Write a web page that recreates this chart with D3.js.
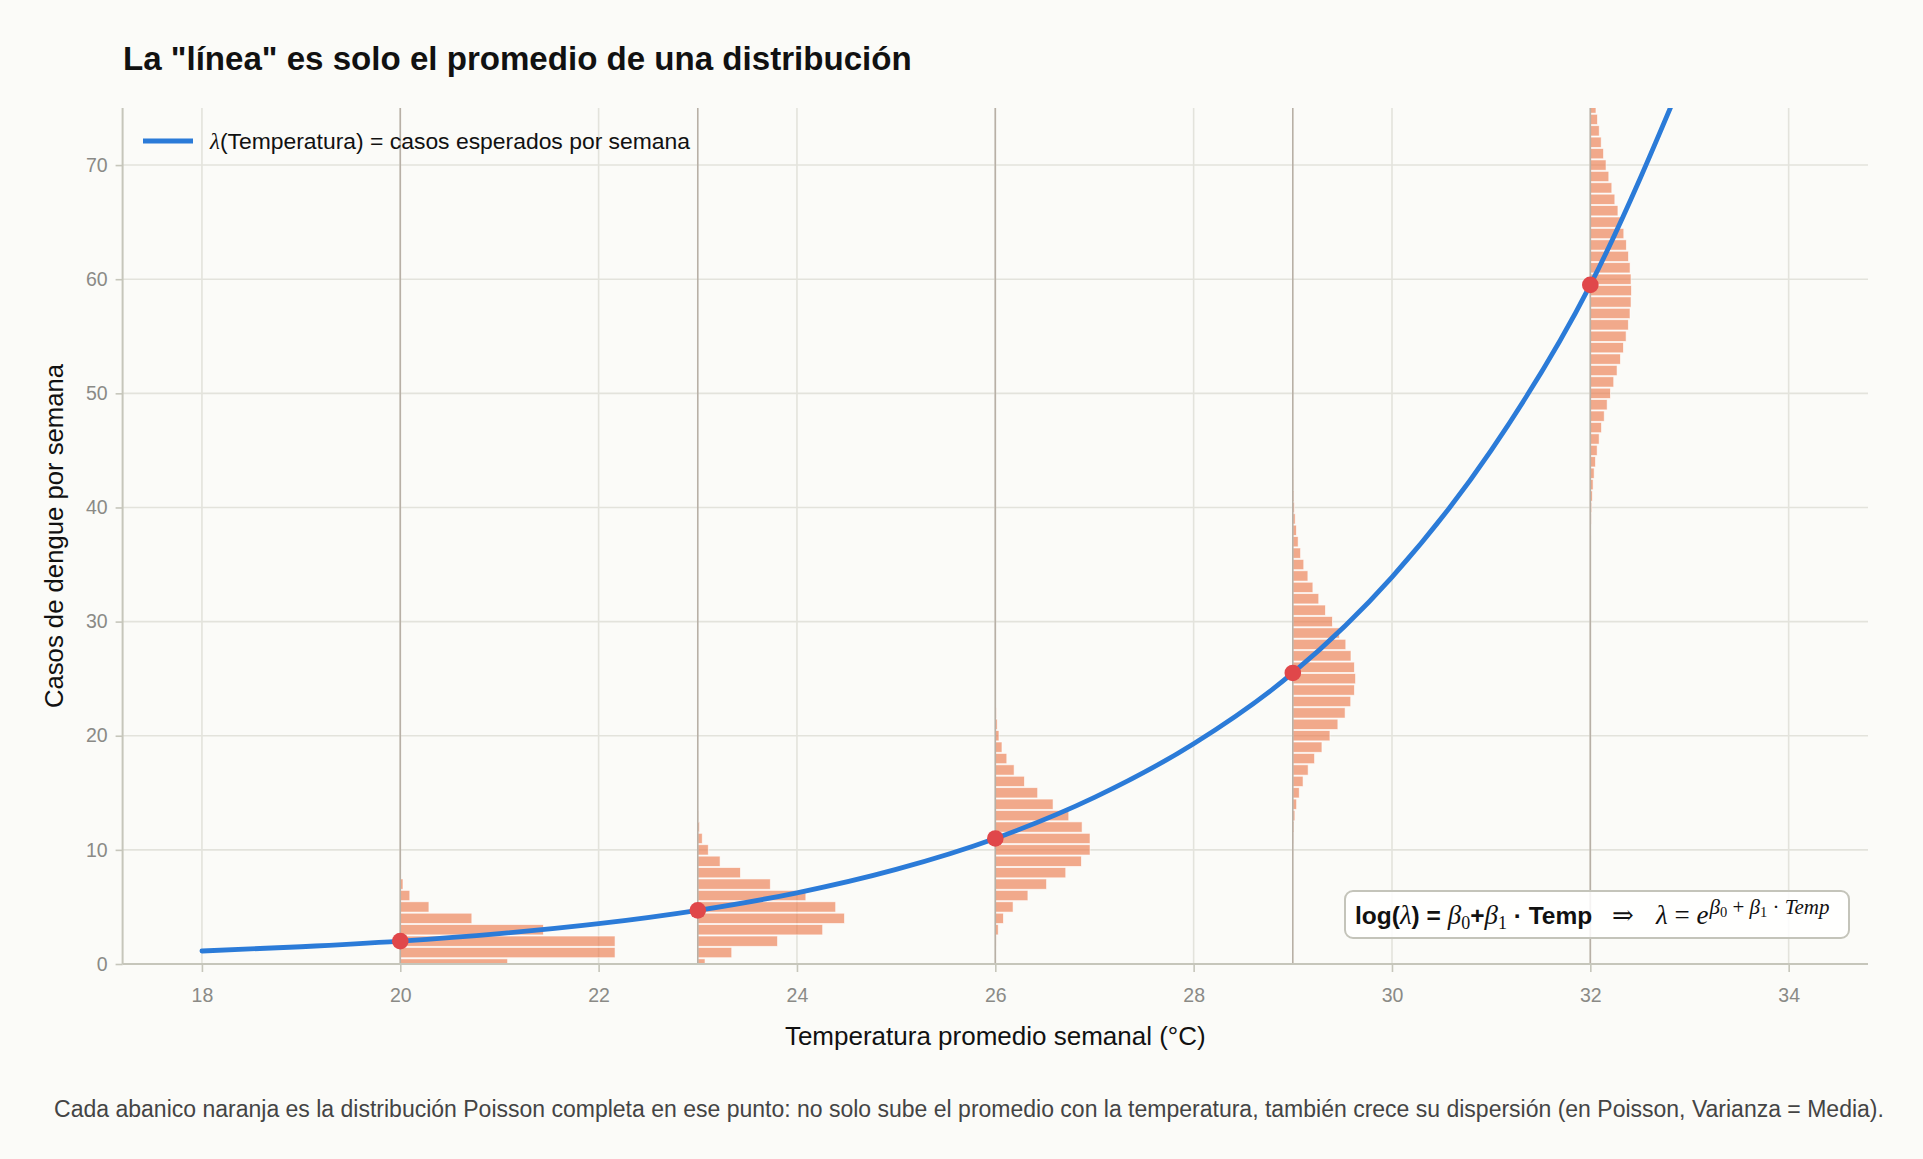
<!DOCTYPE html>
<html><head><meta charset="utf-8">
<script src="https://cdn.jsdelivr.net/npm/d3@7"></script>
<style>
html,body{margin:0;padding:0;background:#fbfbf8;}
svg{display:block;font-family:"Liberation Sans",Arial,sans-serif;}
</style></head>
<body>
<svg id="chart" width="1923" height="1159"></svg>
<script>
// ---- data ----
const curveTemps  = [18,19,20,21,22,23,24,25,26,27,28,29,30,31,32,33];
const curveLambda = [1.14,1.51,2.0,2.66,3.53,4.7,6.24,8.29,11.0,14.6,19.3,25.5,33.9,45.0,59.5,79.0];

const distTemps   = [20,23,26,29,32];
const distLambda  = [2.0,4.7,11.0,25.5,59.5];
const distKStart  = [0,0,0,9,35];
const pmf20 = [0.1353,0.2707,0.2707,0.1804,0.0902,0.0361,0.0120,0.0034,0.0009,0.0002];
const pmf23 = [0.0091,0.0428,0.1005,0.1574,0.1849,0.1738,0.1362,0.0914,0.0537,0.0281,0.0132,0.0056,0.0022,0.0008,0.0003];
const pmf26 = [0.00002,0.0002,0.0010,0.0037,0.0102,0.0224,0.0411,0.0646,0.0888,0.1085,0.1194,0.1194,0.1094,0.0926,0.0728,0.0534,0.0367,0.0237,0.0145,0.0084,0.0046,0.0024,0.0012,0.0006,0.0003,0.0001];
const pmf29 = [0.0001,0.0003,0.0006,0.0013,0.0026,0.0048,0.0081,0.0129,0.0193,0.0274,0.0367,0.0468,0.0568,0.0659,0.0730,0.0776,0.0791,0.0776,0.0733,0.0668,0.0587,0.0499,0.0411,0.0327,0.0253,0.0190,0.0138,0.0098,0.0067,0.0045,0.0030,0.0019,0.0012,0.0007,0.0004,0.0002,0.0001];
const pmf32 = [0.0002,0.0003,0.0005,0.0008,0.0011,0.0017,0.0025,0.0035,0.0048,0.0065,0.0086,0.0111,0.0141,0.0175,0.0212,0.0253,0.0295,0.0337,0.0379,0.0417,0.0451,0.0479,0.0500,0.0513,0.0518,0.0513,0.0501,0.0481,0.0454,0.0422,0.0386,0.0348,0.0309,0.0271,0.0233,0.0198,0.0166,0.0137,0.0112,0.0090,0.0071,0.0056];
const distPmf = [pmf20,pmf23,pmf26,pmf29,pmf32];
const pmfScale = 8; // degrees of x per unit probability

const xTicks = [18,20,22,24,26,28,30,32,34];
const yTicks = [0,10,20,30,40,50,60,70];

const titleText  = 'La "línea" es solo el promedio de una distribución';
const xLabelText = 'Temperatura promedio semanal (°C)';
const yLabelText = 'Casos de dengue por semana';
const legendText = '(Temperatura) = casos esperados por semana';
const noteText   = 'Cada abanico naranja es la distribución Poisson completa en ese punto: no solo sube el promedio con la temperatura, también crece su dispersión (en Poisson, Varianza = Media).';

// ---- layout ----
const P = {left:122.6, right:1868, top:108, bottom:964};
const svg = d3.select('#chart');
svg.append('rect').attr('width',1923).attr('height',1159).attr('fill','#fbfbf8');

const x = d3.scaleLinear().domain([17.2,34.8]).range([P.left,P.right]);
const y = d3.scaleLinear().domain([0,75]).range([P.bottom,P.top]);

svg.append('defs').append('clipPath').attr('id','clip')
  .append('rect').attr('x',P.left).attr('y',P.top).attr('width',P.right-P.left).attr('height',P.bottom-P.top);

// grid
const grid = svg.append('g');
grid.selectAll('.gx').data(xTicks).join('line')
  .attr('x1',d=>x(d)).attr('x2',d=>x(d)).attr('y1',P.top).attr('y2',P.bottom)
  .attr('stroke','#e3e3dc').attr('stroke-width',1.6);
grid.selectAll('.gy').data(yTicks).join('line')
  .attr('x1',P.left).attr('x2',P.right).attr('y1',d=>y(d)).attr('y2',d=>y(d))
  .attr('stroke','#e3e3dc').attr('stroke-width',1.6);

const plotG = svg.append('g').attr('clip-path','url(#clip)');

// histograms
distTemps.forEach((T,i)=>{
  const rows = distPmf[i].map((p,j)=>({k:distKStart[i]+j,p}));
  plotG.append('g').selectAll('rect').data(rows).join('rect')
    .attr('x',x(T))
    .attr('width',d=>x(T+d.p*pmfScale)-x(T))
    .attr('y',d=>y(d.k+0.45))
    .attr('height',d=>y(d.k-0.45)-y(d.k+0.45))
    .attr('fill','#ea6f3c').attr('fill-opacity',0.58)
    .attr('stroke','#ffffff').attr('stroke-width',0.8).attr('stroke-opacity',0.7);
});

// vertical reference lines at the distribution temperatures
plotG.selectAll('.vl').data(distTemps).join('line')
  .attr('x1',d=>x(d)).attr('x2',d=>x(d)).attr('y1',P.top).attr('y2',P.bottom)
  .attr('stroke','#b8b0a6').attr('stroke-width',1.6);

// curve
const line = d3.line().x((d,i)=>x(curveTemps[i])).y(d=>y(d)).curve(d3.curveMonotoneX);
plotG.append('path').datum(curveLambda).attr('d',line)
  .attr('fill','none').attr('stroke','#2b7bd8').attr('stroke-width',4.8).attr('stroke-linecap','round');

// points
plotG.selectAll('.pt').data(distTemps).join('circle')
  .attr('cx',d=>x(d)).attr('cy',(d,i)=>y(distLambda[i])).attr('r',8.3)
  .attr('fill','#e0474a');

// axes
const axX = svg.append('g').attr('transform',`translate(0,${P.bottom})`)
  .call(d3.axisBottom(x).tickValues(xTicks).tickSize(8).tickPadding(10).tickFormat(d3.format('d')));
const axY = svg.append('g').attr('transform',`translate(${P.left},0)`)
  .call(d3.axisLeft(y).tickValues(yTicks).tickSize(7).tickPadding(8).tickFormat(d3.format('d')));
[axX,axY].forEach(a=>{
  a.select('.domain').attr('stroke','#c6c6bb').attr('stroke-width',2);
  a.selectAll('.tick line').attr('stroke','#c6c6bb').attr('stroke-width',1.6);
  a.selectAll('.tick text').attr('fill','#8a8a86').attr('font-size',19.5)
   .attr('font-family','"Liberation Sans",Arial,sans-serif');
});
axX.select('.domain').attr('d',`M${P.left},0H${P.right}`);
axY.select('.domain').attr('d',`M0,${P.top}V${P.bottom}`);
axX.selectAll('.tick text').attr('dy','1.05em');

// title and labels
svg.append('text').attr('x',123).attr('y',70).text(titleText)
  .attr('font-size',33.1).attr('font-weight','bold').attr('fill','#111');
svg.append('text').attr('x',(P.left+P.right)/2).attr('y',1045).attr('text-anchor','middle')
  .text(xLabelText).attr('font-size',26).attr('fill','#111');
svg.append('text').attr('transform',`translate(63,${(P.top+P.bottom)/2}) rotate(-90)`)
  .attr('text-anchor','middle').text(yLabelText).attr('font-size',25.7).attr('fill','#111');
svg.append('text').attr('x',969).attr('y',1117).attr('text-anchor','middle')
  .text(noteText).attr('font-size',23).attr('fill','#444');

// legend
svg.append('line').attr('x1',143).attr('x2',193).attr('y1',141).attr('y2',141)
  .attr('stroke','#2b7bd8').attr('stroke-width',4.8);
const lt = svg.append('text').attr('x',210).attr('y',148.5).attr('font-size',22.9).attr('fill','#111');
lt.append('tspan').attr('font-family','"Liberation Serif","DejaVu Serif",serif').attr('font-style','italic').text('λ');
lt.append('tspan').text(legendText);

// equation box
svg.append('rect').attr('x',1345).attr('y',891).attr('width',504).attr('height',47).attr('rx',8)
  .attr('fill','#ffffff').attr('fill-opacity',0.85).attr('stroke','#c4c4ba').attr('stroke-width',2);
const serif = '"Liberation Serif","DejaVu Serif",serif';
function eqText(x0){ return svg.append('text').attr('x',x0).attr('y',924).attr('font-size',24.5).attr('fill','#111'); }
function add(t,o,el){const s=el.append('tspan').text(t);Object.entries(o).forEach(([k,v])=>s.attr(k,v));return s;}
const e1 = eqText(1355);
add('log(',{'font-weight':'bold'},e1);
add('λ',{'font-family':serif,'font-style':'italic','font-size':27},e1);
add(') = ',{'font-weight':'bold'},e1);
add('β',{'font-family':serif,'font-style':'italic','font-size':27},e1);
add('0',{'font-family':serif,'font-size':18,'dy':5},e1);
add('+',{'font-weight':'bold','dy':-5},e1);
add('β',{'font-family':serif,'font-style':'italic','font-size':27},e1);
add('1',{'font-family':serif,'font-size':18,'dy':5},e1);
add(' · Temp',{'font-weight':'bold','dy':-5},e1);
const e2 = eqText(1612);
add('⇒',{'font-family':serif,'font-size':26},e2);
const e3 = eqText(1656);
add('λ',{'font-family':serif,'font-style':'italic','font-size':27},e3);
add(' = ',{'font-family':serif,'font-size':27},e3);
add('e',{'font-family':serif,'font-style':'italic','font-size':27},e3);
add('β',{'font-family':serif,'font-style':'italic','font-size':21,'dy':-10,'dx':1},e3);
add('0',{'font-family':serif,'font-size':14.5,'dy':3},e3);
add(' + ',{'font-family':serif,'font-size':21,'dy':-3},e3);
add('β',{'font-family':serif,'font-style':'italic','font-size':21},e3);
add('1',{'font-family':serif,'font-size':14.5,'dy':3},e3);
add(' · ',{'font-family':serif,'font-size':21,'dy':-3},e3);
add('Temp',{'font-family':serif,'font-style':'italic','font-size':21},e3);
</script>
</body></html>
